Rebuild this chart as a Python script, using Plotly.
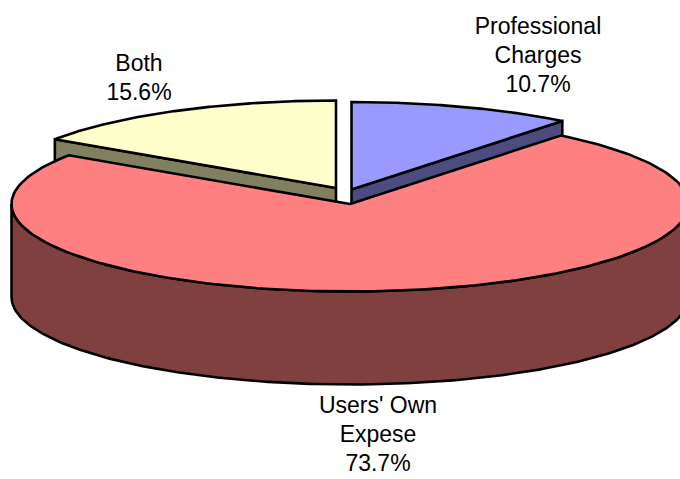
import numpy as np
import plotly.graph_objects as go

categories = ["Professional Charges", "Users' Own Expese", "Both"]
values = [10.7, 73.7, 15.6]
label_lines = [["Professional", "Charges", "10.7%"], ["Users' Own", "Expese", "73.7%"], ["Both", "15.6%"]]
top_colors = ["#9999FF", "#FF8080", "#FFFFCC"]
side_colors = ["#4C4C80", "#804040", "#80805F"]

W, H = 680, 479
RX, RY, DEPTH = 338.5, 87.5, 93
centers = [(351.5, 189.5), (350, 204), (336, 188)]
label_pos = [(538, 28), (378, 407), (139, 65)]
LINE_GAP = 29

def pt(c, a):
    r = np.radians(a)
    return c[0] + RX * np.sin(r), c[1] - RY * np.cos(r)

def arc(c, a0, a1):
    t = np.linspace(a0, a1, 200)
    return pt(c, t)

total = sum(values)
edges = np.concatenate([[0], np.cumsum(values) / total * 360])
fig = go.Figure()

def poly(xs, ys, fill):
    fig.add_trace(go.Scatter(x=list(xs), y=list(ys), mode="lines", fill="toself", fillcolor=fill,
                             line=dict(color="black", width=2.6), hoverinfo="skip", showlegend=False))

def sector(i):
    c = centers[i]
    ax, ay = arc(c, edges[i], edges[i + 1])
    poly([c[0], *ax, c[0]], [c[1], *ay, c[1]], top_colors[i])

def wall(i, a):
    c = centers[i]
    x, y = pt(c, a)
    poly([c[0], x, x, c[0], c[0]], [c[1], y, y + DEPTH, c[1] + DEPTH, c[1]], side_colors[i])

# Back slices
wall(2, edges[2]); sector(2)
wall(0, edges[1]); sector(0)

# Front slice, drawn last so that it hides the lower part of the back walls
c = centers[1]
ax, ay = arc(c, 90, 270)
poly([*ax, *ax[::-1], ax[0]], [*ay, *(ay[::-1] + DEPTH), ay[0]], side_colors[1])
sector(1)

# Labels
tx, ty, tt = [], [], []
for (x, y), lines in zip(label_pos, label_lines):
    for k, s in enumerate(lines):
        tx.append(x); ty.append(y + k * LINE_GAP); tt.append(s)
fig.add_trace(go.Scatter(x=tx, y=ty, text=tt, mode="text", textposition="middle center",
                         textfont=dict(family="Liberation Sans", size=23, color="black"),
                         hoverinfo="skip", showlegend=False, cliponaxis=False))

fig.update_layout(width=W, height=H, margin=dict(l=0, r=0, t=0, b=0), autosize=False,
                  paper_bgcolor="white", plot_bgcolor="white", showlegend=False,
                  xaxis=dict(range=[0, W], visible=False, fixedrange=True),
                  yaxis=dict(range=[H, 0], visible=False, fixedrange=True))
fig.write_html("out.html", config={"displayModeBar": False},
               post_script="document.body.style.margin='0';document.body.style.overflow='hidden';")
